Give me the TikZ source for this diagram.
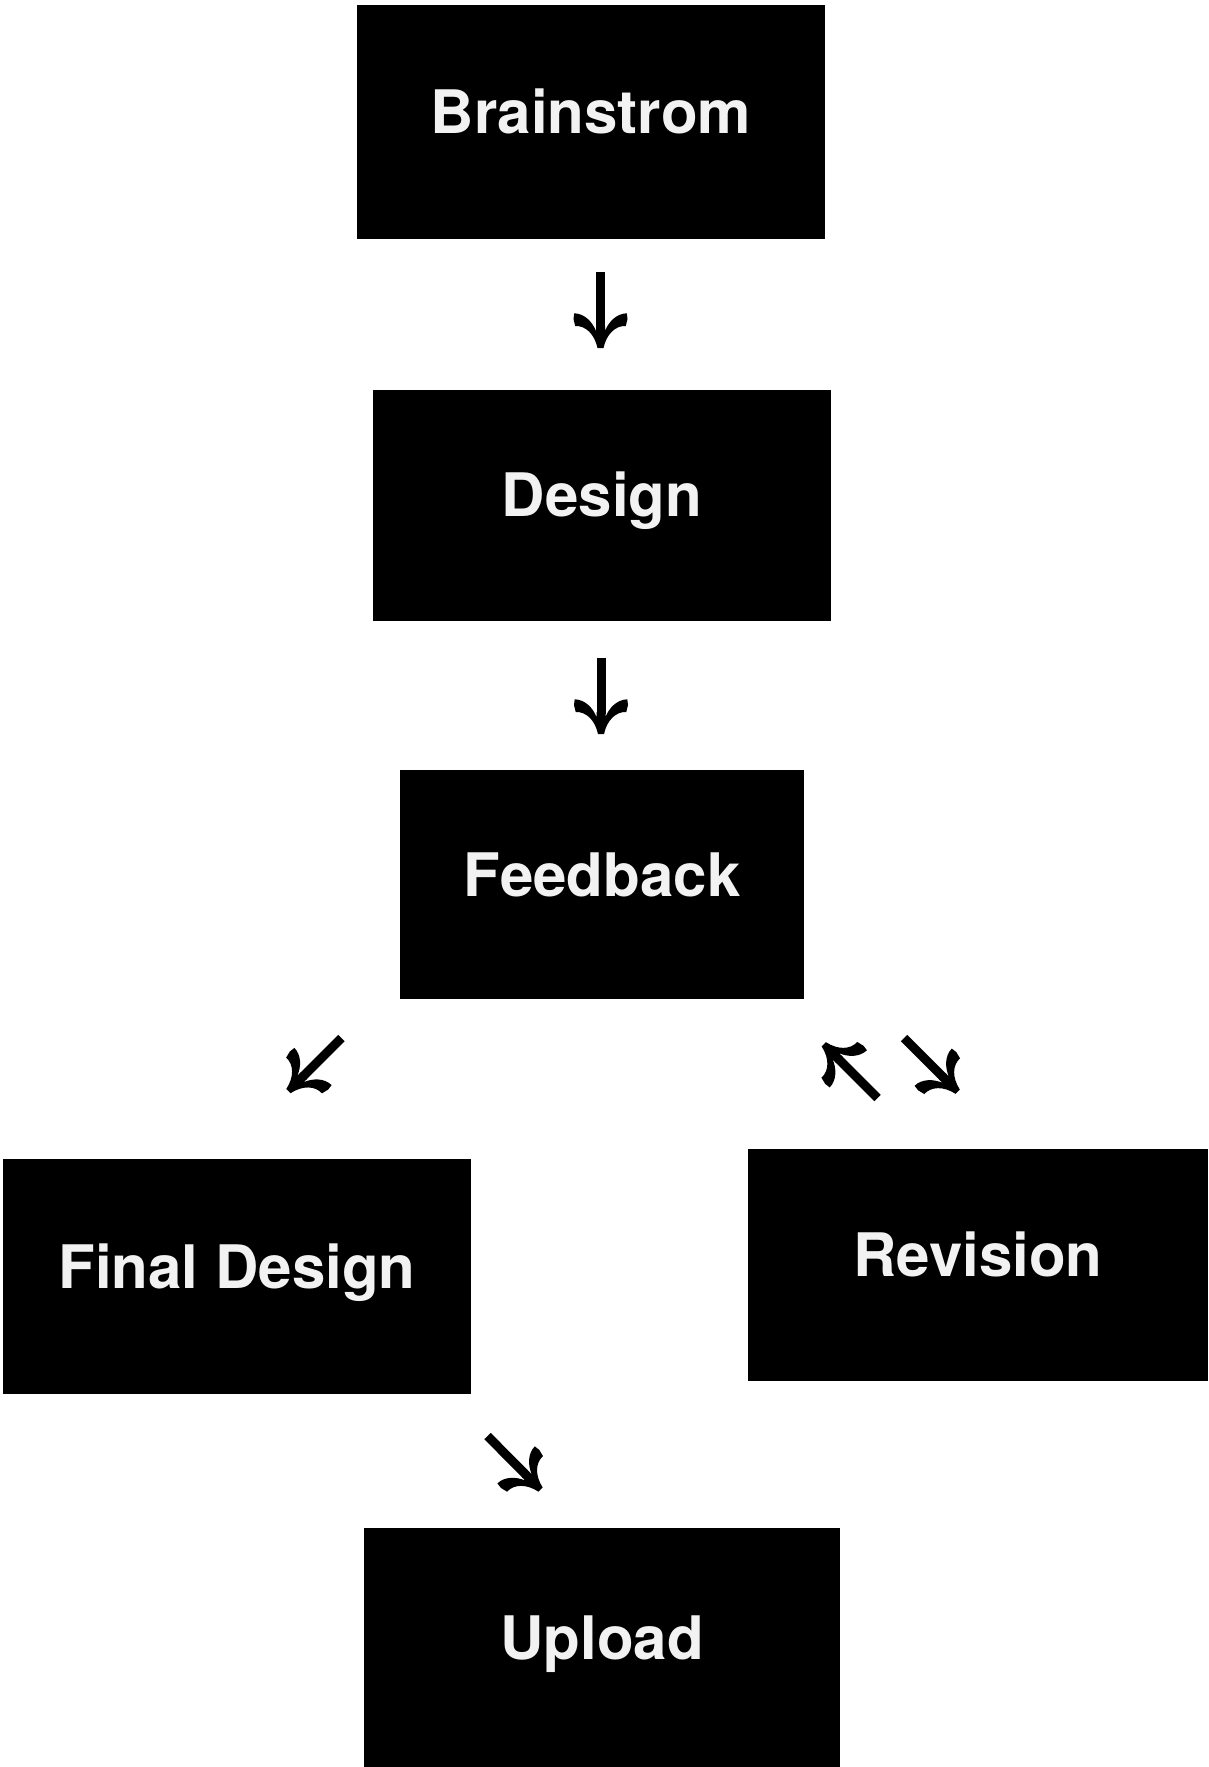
\documentclass[tikz,border=0pt]{standalone}
\usepackage{fontspec}
\setmainfont{TeX Gyre Heros}
\usetikzlibrary{arrows.meta}
\definecolor{boxtext}{RGB}{242,242,242}
\pgfdeclarearrow{
  name = Glyph,
  setup code = {
    \pgfarrowssettipend{0pt}
    \pgfarrowssetlineend{-20pt}
    \pgfarrowssetbackend{-35pt}
    \pgfarrowshullpoint{0pt}{0pt}
    \pgfarrowshullpoint{-35pt}{28pt}
    \pgfarrowshullpoint{-35pt}{-28pt}
  },
  drawing code = {
    \pgfpathmoveto{\pgfqpoint{-22pt}{4.5pt}}
    \pgfpathlineto{\pgfqpoint{-17pt}{4.5pt}}
    \pgfpathcurveto{\pgfqpoint{-26pt}{8pt}}{\pgfqpoint{-34.5pt}{16pt}}{\pgfqpoint{-34.7pt}{26.3pt}}
    \pgfpathlineto{\pgfqpoint{-29pt}{27pt}}
    \pgfpathlineto{\pgfqpoint{-22pt}{25.3pt}}
    \pgfpathcurveto{\pgfqpoint{-22.5pt}{15pt}}{\pgfqpoint{-14pt}{6pt}}{\pgfqpoint{0pt}{3pt}}
    \pgfpathlineto{\pgfqpoint{0pt}{-3pt}}
    \pgfpathcurveto{\pgfqpoint{-14pt}{-6pt}}{\pgfqpoint{-22.5pt}{-15pt}}{\pgfqpoint{-22pt}{-25.3pt}}
    \pgfpathlineto{\pgfqpoint{-29pt}{-27pt}}
    \pgfpathlineto{\pgfqpoint{-34.7pt}{-26.3pt}}
    \pgfpathcurveto{\pgfqpoint{-34.5pt}{-16pt}}{\pgfqpoint{-26pt}{-8pt}}{\pgfqpoint{-17pt}{-4.5pt}}
    \pgfpathlineto{\pgfqpoint{-22pt}{-4.5pt}}
    \pgfpathclose
    \pgfusepathqfill
  },
}
\tikzset{
  box/.style={fill=black, draw=none, text=boxtext, inner sep=0pt, outer sep=0pt,
    font=\fontsize{60}{72}\selectfont\bfseries, text height=43pt, text depth=20pt},
  glypharrow/.style={draw=black, line width=9pt, -Glyph},
}
\begin{document}
\begin{tikzpicture}[x=1pt,y=1pt]
\useasboundingbox (0,0) rectangle (1208,-1767);
\node[box, minimum width=468pt, minimum height=234.5pt] (brain) at (591,-121.75) {Brainstrom};
\node[box, minimum width=458pt, minimum height=230.5pt] (design) at (602,-505.25) {Design};
\node[box, minimum width=404pt, minimum height=229pt] (feedback) at (602,-884.5) {Feedback};
\node[box, minimum width=468pt, minimum height=235pt] (final) at (237,-1276.5) {Final Design};
\node[box, minimum width=460pt, minimum height=232pt] (revision) at (978,-1265) {Revision};
\node[box, minimum width=476pt, minimum height=239pt] (upload) at (602,-1647.5) {Upload};

\coordinate (a1s) at (600.5,-272);   \coordinate (a1e) at (600.5,-348);
\coordinate (a2s) at (601,-658);     \coordinate (a2e) at (601,-734);
\coordinate (a3s) at (341.5,-1038);  \coordinate (a3e) at (288.5,-1091);
\coordinate (a4s) at (877.5,-1098);  \coordinate (a4e) at (823.8,-1044.3);
\coordinate (a5s) at (904,-1038);    \coordinate (a5e) at (957.7,-1091.7);
\coordinate (a6s) at (487.5,-1436);  \coordinate (a6e) at (540.5,-1489.5);

\draw[glypharrow] (a1s) -- (a1e);
\draw[glypharrow] (a2s) -- (a2e);
\draw[glypharrow] (a3s) -- (a3e);
\draw[glypharrow] (a4s) -- (a4e);
\draw[glypharrow] (a5s) -- (a5e);
\draw[glypharrow] (a6s) -- (a6e);
\end{tikzpicture}
\end{document}
